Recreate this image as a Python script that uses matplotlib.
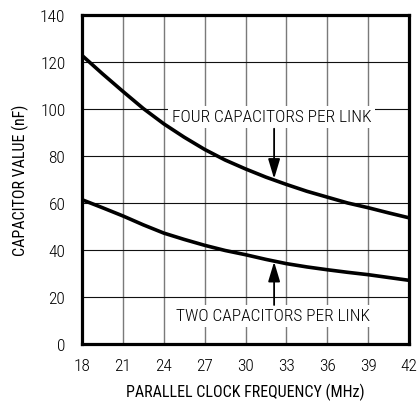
import matplotlib
matplotlib.use("Agg")
import matplotlib.pyplot as plt
from matplotlib import font_manager

names = {f.name for f in font_manager.fontManager.ttflist}
fam = [n for n in ["Roboto Condensed", "Archivo Narrow", "Liberation Sans"] if n in names] + ["DejaVu Sans"]
plt.rcParams['font.family'] = fam
plt.rcParams['font.weight'] = 'light'

freq = [18, 19.5, 21, 22.5, 24, 25.5, 27, 28.5, 30, 31.5, 33, 34.5, 36, 37.5, 39, 40.5, 42]
four_caps = [122.8, 115, 107.5, 100.2, 93.7, 88, 82.8, 78.3, 74.5, 71, 67.9, 65, 62.5, 60, 58, 55.8, 53.7]
two_caps = [61.4, 58, 54.5, 50.7, 47.2, 44.5, 42, 39.8, 38, 36, 34.2, 32.8, 31.6, 30.5, 29.5, 28.3, 27.1]
xticks = [18, 21, 24, 27, 30, 33, 36, 39, 42]
yticks = [0, 20, 40, 60, 80, 100, 120, 140]

fig = plt.figure(figsize=(4.18, 4.02), dpi=100)
ax = fig.add_axes([82/418, 57/402, 327/418, 329/402])

ax.plot(freq, four_caps, color='black', lw=2.6, zorder=3, solid_joinstyle='round')
ax.plot(freq, two_caps, color='black', lw=2.6, zorder=3, solid_joinstyle='round')

ax.set_xlim(18, 42)
ax.set_ylim(0, 140)
ax.set_xticks(xticks)
ax.set_yticks(yticks)
ax.xaxis.grid(True, color='#7a7a7a', lw=1.0)
ax.yaxis.grid(True, color='#111111', lw=0.8)
ax.set_axisbelow(True)
for s in ax.spines.values():
    s.set_linewidth(2.3)
ax.tick_params(axis='y', length=0, pad=12, labelsize=12.5)
ax.tick_params(axis='x', length=0, pad=10, labelsize=12.5)

ax.set_xlabel('PARALLEL CLOCK FREQUENCY (MHz)', fontsize=11.5, labelpad=7)
ax.set_ylabel('CAPACITOR VALUE (nF)', fontsize=11.5, labelpad=8)

bbox = dict(boxstyle='square,pad=0.2', fc='white', ec='none')
ax.text(31.9, 96.7, 'FOUR CAPACITORS PER LINK', fontsize=12.5, ha='center', va='center', bbox=bbox, zorder=2)
ax.text(32.0, 12.0, 'TWO CAPACITORS PER LINK', fontsize=12.5, ha='center', va='center', bbox=bbox, zorder=2)

astyle = '-|>,head_length=0.6,head_width=0.18'
ax.annotate('', xy=(32.1, 70.3), xytext=(32.1, 91.6),
            arrowprops=dict(arrowstyle=astyle, color='black', lw=1.3, mutation_scale=20,
                            shrinkA=0, shrinkB=0), zorder=4)
ax.annotate('', xy=(32.1, 35.0), xytext=(32.1, 16.6),
            arrowprops=dict(arrowstyle=astyle, color='black', lw=1.3, mutation_scale=20,
                            shrinkA=0, shrinkB=0), zorder=4)

fig.savefig('out.png', dpi=100)
